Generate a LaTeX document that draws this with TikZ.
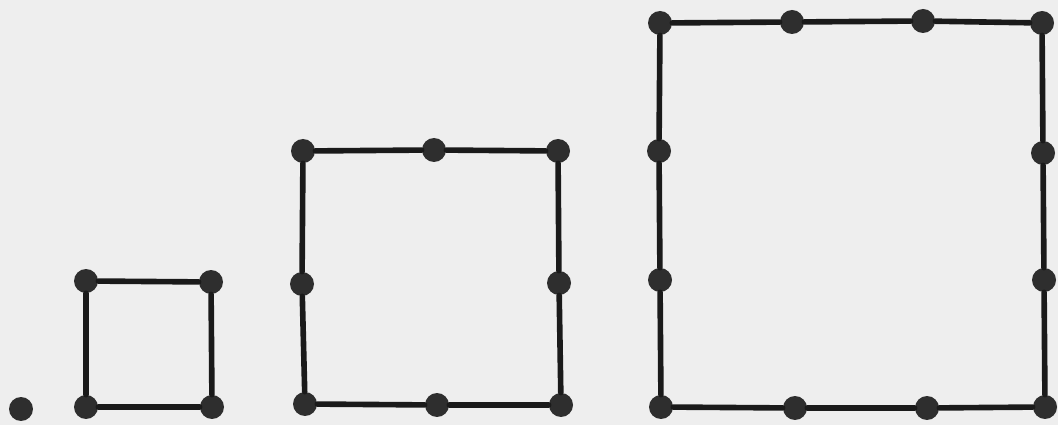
\documentclass[tikz,border=0pt]{standalone}
\usepackage{tikz}

\definecolor{paper}{HTML}{EEEEEE}
\definecolor{ink}{HTML}{1A1A1A}
\definecolor{dotink}{HTML}{2E2E2E}

\begin{document}
\begin{tikzpicture}[
  x=0.02cm, y=-0.02cm,
  pt/.style={circle, fill=dotink, inner sep=0pt, minimum size=0.48cm},
  side/.style={draw=ink, line width=3.2pt, line cap=round},
]

% page background (scanned paper)
\fill[paper] (0, 0) rectangle (1058, 425);
\useasboundingbox (0, 0) rectangle (1058, 425);

% ============================================================
% ONE POINT
% ============================================================
\node[pt] (p0) at (21, 409) {};

% ============================================================
% SQUARE WITH 4 POINTS
% ============================================================
\node[pt] (a1) at (86, 281) {};
\node[pt] (a2) at (211, 282) {};
\node[pt] (a3) at (212, 407) {};
\node[pt] (a4) at (86, 407) {};

\foreach \u/\v in {a1/a2, a2/a3, a3/a4, a4/a1}
  \draw[side] (\u) -- (\v);

% ============================================================
% SQUARE WITH 8 POINTS
% ============================================================
\node[pt] (b1) at (303, 151) {};
\node[pt] (b2) at (434, 150) {};
\node[pt] (b3) at (558, 151) {};
\node[pt] (b4) at (559, 283) {};
\node[pt] (b5) at (561, 405) {};
\node[pt] (b6) at (437, 405) {};
\node[pt] (b7) at (305, 404) {};
\node[pt] (b8) at (302, 284) {};

\foreach \u/\v in {b1/b2, b2/b3, b3/b4, b4/b5, b5/b6, b6/b7, b7/b8, b8/b1}
  \draw[side] (\u) -- (\v);

% ============================================================
% SQUARE WITH 12 POINTS
% ============================================================
\node[pt] (c1) at (660, 23) {};
\node[pt] (c2) at (792, 22) {};
\node[pt] (c3) at (923, 21) {};
\node[pt] (c4) at (1042, 23) {};
\node[pt] (c5) at (1043, 153) {};
\node[pt] (c6) at (1044, 280) {};
\node[pt] (c7) at (1045, 407) {};
\node[pt] (c8) at (927, 408) {};
\node[pt] (c9) at (795, 408) {};
\node[pt] (c10) at (661, 407) {};
\node[pt] (c11) at (660, 280) {};
\node[pt] (c12) at (659, 151) {};

\foreach \u/\v in {c1/c2, c2/c3, c3/c4, c4/c5, c5/c6, c6/c7,
                   c7/c8, c8/c9, c9/c10, c10/c11, c11/c12, c12/c1}
  \draw[side] (\u) -- (\v);

\end{tikzpicture}
\end{document}
